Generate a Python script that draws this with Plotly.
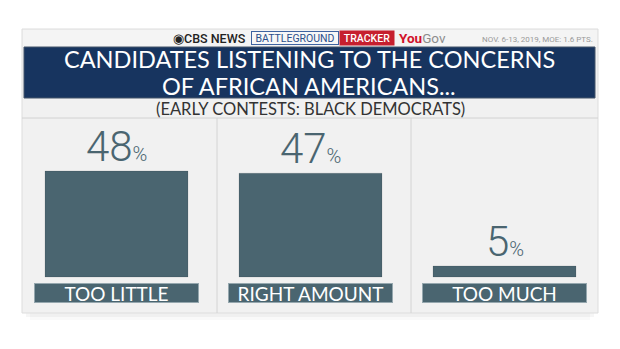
import plotly.graph_objects as go

# Survey responses
categories = ["TOO LITTLE", "RIGHT AMOUNT", "TOO MUCH"]
values = [48, 47, 5]

title_lines = ["CANDIDATES LISTENING TO THE CONCERNS", "OF AFRICAN AMERICANS..."]
subtitle = "(EARLY CONTESTS: BLACK DEMOCRATS)"
source_note = "NOV. 6-13, 2019, MOE: 1.6 PTS."

W, H = 620, 349
BAR = "#4a6570"
PANEL = "#f1f1f1"
NAVY = "#17345f"


def fx(px):
    return px / W


def fy(py):
    return 1 - py / H


def rect(x0, y0, x1, y1, fill, line=None, lw=0, layer="below"):
    return dict(type="rect", xref="paper", yref="paper",
                x0=fx(x0), x1=fx(x1), y0=fy(y1), y1=fy(y0),
                fillcolor=fill, line=dict(color=line or fill, width=lw), layer=layer)


def vline(x, y0, y1, color, w=1):
    return dict(type="line", xref="paper", yref="paper",
                x0=fx(x), x1=fx(x), y0=fy(y1), y1=fy(y0),
                line=dict(color=color, width=w), layer="below")


def label(x, y, text, **kw):
    d = dict(xref="paper", yref="paper", x=fx(x), y=fy(y), text=text,
             showarrow=False, xanchor="center", yanchor="middle")
    d.update(kw)
    return d


fig = go.Figure()
fig.add_trace(go.Bar(
    x=categories, y=values, width=0.737,
    marker=dict(color=BAR, line=dict(color="rgba(0,0,0,0.10)", width=1)),
    hoverinfo="skip",
))

shapes = []
# soft drop shadow under the card
shapes.append(rect(30, 313, 590, 320, "rgba(0,0,0,0.025)"))
shapes.append(rect(26, 313, 594, 317, "rgba(0,0,0,0.035)"))
# card
shapes.append(rect(22, 29, 598, 313, PANEL, "#dddddd", 1))
# header strip
shapes.append(rect(23, 30, 597, 47, "#f4f4f4"))
# title banner
shapes.append(rect(24, 47, 595, 98, NAVY, "#44546a", 1))
# subtitle row separator
shapes.append(dict(type="line", xref="paper", yref="paper",
                   x0=fx(22), x1=fx(598), y0=fy(118), y1=fy(118),
                   line=dict(color="#d2d2d2", width=1), layer="below"))
# column dividers
shapes.append(vline(217, 118, 313, "#d4d4d4"))
shapes.append(vline(411, 118, 313, "#d4d4d4"))

annotations = []
# masthead
annotations.append(label(210, 38, "◉CBS NEWS",
                         font=dict(family="Roboto", size=12.5, color="#222222", weight=500)))
annotations.append(label(295, 38, "BATTLEGROUND", width=86, height=12,
                         bgcolor="#f7f7f7", bordercolor="#3e63a0", borderwidth=1, borderpad=0,
                         font=dict(family="Roboto", size=10.5, color="#2c4f8c")))
annotations.append(label(366.5, 38, "TRACKER", width=52, height=12,
                         bgcolor="#c61f2e", borderpad=1,
                         font=dict(family="Roboto", size=10.5, color="#ffffff", weight=500)))
annotations.append(label(422, 38,
                         "<span style='color:#d1122a'><b>You</b></span>"
                         "<span style='color:#8c8c8c'>Gov</span>",
                         font=dict(family="Roboto", size=13.5)))
annotations.append(label(595, 39, source_note, xanchor="right",
                         font=dict(family="Roboto", size=8, color="#9a9a9a")))
# title, one annotation per line for tight leading
for line_text, y in zip(title_lines, [58.5, 85.5]):
    annotations.append(label(309, y, line_text, borderpad=0,
                             font=dict(family="Lato", size=23.5, color="#ffffff")))
# subtitle
annotations.append(label(310, 109.5, subtitle, borderpad=0,
                         font=dict(family="Lato", size=16.5, color="#333333")))

# value labels and category boxes
for cat, v in zip(categories, values):
    annotations.append(dict(
        x=cat, y=v, xref="x", yref="y", xanchor="center", yanchor="bottom", yshift=-2,
        text=f"{v}<span style='font-size:20px'>%</span>", showarrow=False,
        font=dict(family="Roboto", size=42, color=BAR, weight=300)))
    annotations.append(dict(
        x=cat, y=-7.25, xref="x", yref="y", xanchor="center", yanchor="middle",
        text=cat, showarrow=False, width=163, height=18,
        bgcolor=BAR, bordercolor="#95a7ae", borderwidth=1, borderpad=0,
        font=dict(family="Lato", size=19, color="#ffffff")))

fig.update_layout(
    width=W, height=H,
    margin=dict(l=0, r=0, t=0, b=0),
    paper_bgcolor="#ffffff",
    plot_bgcolor="rgba(0,0,0,0)",
    showlegend=False,
    shapes=shapes,
    annotations=annotations,
    xaxis=dict(domain=[fx(19.5), fx(601.5)], range=[-0.5, 2.5],
               visible=False, fixedrange=True),
    yaxis=dict(domain=[fy(313), fy(118)], range=[-16.3, 72.0],
               visible=False, fixedrange=True),
)

fig.write_html("out.html")
